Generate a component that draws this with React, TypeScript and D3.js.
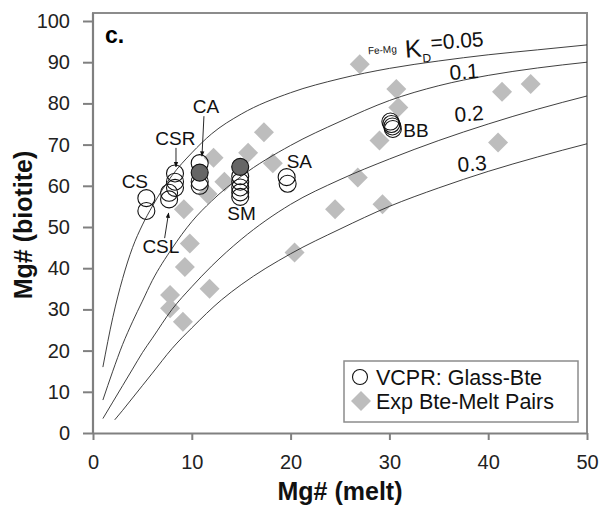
import { useEffect, useRef } from 'react';
import * as d3 from 'd3';

// experimental biotite-melt pairs (Mg# melt, Mg# biotite)
const expMelt = [27.0, 30.7, 30.9, 29.0, 26.8, 29.3, 24.5, 41.4, 44.3, 41.0, 17.3, 15.7, 12.2, 18.2, 13.3, 11.6, 9.2, 9.8, 9.3, 11.8, 20.4, 7.8, 7.8, 9.1];
const expBt = [89.5, 83.5, 79, 71, 62, 55.5, 54.3, 82.8, 84.7, 70.5, 73, 68, 66.8, 65.5, 61, 58, 54.3, 46, 40.3, 35, 43.8, 33.5, 30.3, 27];

// VCPR glass-biotite (open circles)
const vcprMelt = [5.4, 5.4, 7.7, 7.7, 8.3, 8.3, 8.3, 10.8, 10.8, 10.8, 14.9, 14.9, 14.9, 14.9, 14.9, 19.6, 19.7, 30.1, 30.2, 30.3, 30.35];
const vcprBt = [57, 53.9, 56.7, 58.3, 63, 61, 59.5, 65.5, 61, 60, 62.3, 61, 59.6, 58.4, 57.3, 62.1, 60.5, 75.6, 75, 74.4, 73.8];
// VCPR filled circles
const vcprDarkMelt = [10.8, 14.9];
const vcprDarkBt = [63.2, 64.6];

// KD isopleths
const kd005Melt = [1, 2, 3, 4, 5, 6, 8, 10, 12, 15, 20, 25, 30, 35, 40, 45, 50];
const kd005Bt = [16, 28, 37.5, 45, 50.5, 55, 62.5, 68, 72.6, 77.4, 82.6, 86, 88.5, 90.3, 91.8, 93, 94.2];
const kd01Melt = [1, 2, 3, 4, 5, 6, 8, 10, 12, 15, 20, 25, 30, 35, 40, 45, 50];
const kd01Bt = [8, 15, 21.5, 27, 32, 37, 44.8, 51.3, 56.3, 62.3, 69.8, 75.6, 80.7, 84.3, 86.8, 88.6, 90];
const kd02Melt = [1, 2, 3, 4, 5, 6, 8, 10, 12, 15, 20, 25, 30, 35, 40, 45, 50];
const kd02Bt = [3.5, 7.5, 11.5, 15.5, 19.5, 23, 30, 35.5, 40.5, 47, 55.5, 61.5, 66.5, 71, 75, 78.6, 81.8];
const kd03Melt = [2.2, 3, 4, 5, 6, 8, 10, 13, 15, 20, 25, 30, 35, 40, 45, 50];
const kd03Bt = [3.2, 5.5, 8.5, 11.5, 14.5, 20.5, 25.5, 32.3, 36, 43.5, 49.5, 55, 59.5, 63.5, 67, 70.2];

const xTicks = [0, 10, 20, 30, 40, 50];
const yTicks = [0, 10, 20, 30, 40, 50, 60, 70, 80, 90, 100];

const sampleNames = ['CS', 'CSR', 'CA', 'CSL', 'SM', 'SA', 'BB'];

const FONT = 'Liberation Sans, Arial, Helvetica, sans-serif';

function App() {
  const svgRef = useRef<SVGSVGElement>(null);

  useEffect(() => {
    const svg = d3.select(svgRef.current);
    svg.selectAll('*').remove();

    const x = d3.scaleLinear().domain([0, 50]).range([93, 587]);
    const y = d3.scaleLinear().domain([0, 100]).range([433, 21]);
    const top = 13;

    const defs = svg.append('defs');
    defs.append('clipPath').attr('id', 'plot')
      .append('rect').attr('x', x(0)).attr('y', top).attr('width', x(50) - x(0)).attr('height', y(0) - top);
    defs.append('marker')
      .attr('id', 'arr').attr('viewBox', '0 0 10 10').attr('refX', 9).attr('refY', 5)
      .attr('markerWidth', 6).attr('markerHeight', 6).attr('orient', 'auto')
      .append('path').attr('d', 'M0,1 L10,5 L0,9 z').attr('fill', '#111');

    // frame
    svg.append('path')
      .attr('d', `M${x(0)},${y(0)} V${top} H${x(50)} V${y(0)}`)
      .attr('fill', 'none').attr('stroke', '#8c8c8c').attr('stroke-width', 2);

    // axes
    const xAxis = svg.append('g').attr('transform', `translate(0,${y(0)})`)
      .call(d3.axisBottom(x).tickValues(xTicks).tickSize(7).tickPadding(15).tickSizeOuter(0));
    const yAxis = svg.append('g').attr('transform', `translate(${x(0)},0)`)
      .call(d3.axisLeft(y).tickValues(yTicks).tickSize(10).tickPadding(13).tickSizeOuter(0));
    [xAxis, yAxis].forEach((a) => {
      a.select('.domain').attr('stroke', '#808080').attr('stroke-width', 2.2);
      a.selectAll('.tick line').attr('stroke', '#808080').attr('stroke-width', 2);
      a.selectAll('.tick text').attr('fill', '#222').attr('font-size', 20).attr('font-family', FONT);
    });
    yAxis.select('.domain').attr('d', `M0,${y(0)} V${top}`);

    // experimental diamonds
    const diamond = d3.symbol(d3.symbolSquare, 200);
    svg.append('g').selectAll('path').data(expMelt).enter().append('path')
      .attr('d', diamond)
      .attr('transform', (d, i) => `translate(${x(d)},${y(expBt[i])}) rotate(45)`)
      .attr('fill', '#bdbdbd');

    // KD curves
    const line = d3.line<[number, number]>().x((d) => x(d[0])).y((d) => y(d[1])).curve(d3.curveMonotoneX);
    const curves: [number[], number[]][] = [
      [kd005Melt, kd005Bt], [kd01Melt, kd01Bt], [kd02Melt, kd02Bt], [kd03Melt, kd03Bt],
    ];
    svg.append('g').attr('clip-path', 'url(#plot)').selectAll('path').data(curves).enter().append('path')
      .attr('d', (c) => line(c[0].map((m, i) => [m, c[1][i]] as [number, number])))
      .attr('fill', 'none').attr('stroke', '#2a2a2a').attr('stroke-width', 0.9);

    // VCPR circles
    svg.append('g').selectAll('circle').data(vcprMelt).enter().append('circle')
      .attr('cx', (d) => x(d)).attr('cy', (d, i) => y(vcprBt[i])).attr('r', 8.5)
      .attr('fill', 'none').attr('stroke', '#111').attr('stroke-width', 1.1);
    svg.append('g').selectAll('circle').data(vcprDarkMelt).enter().append('circle')
      .attr('cx', (d) => x(d)).attr('cy', (d, i) => y(vcprDarkBt[i])).attr('r', 8.5)
      .attr('fill', '#666').attr('stroke', '#111').attr('stroke-width', 1.1);

    // sample labels
    const labelAt: [number, number][] = [[2.9, 59.5], [6.3, 69.9], [10.1, 77.7], [5.0, 43.7], [13.6, 51.7], [19.6, 64.3], [31.4, 71.8]];
    svg.append('g').selectAll('text').data(sampleNames).enter().append('text')
      .attr('x', (d, i) => x(labelAt[i][0])).attr('y', (d, i) => y(labelAt[i][1]))
      .attr('font-size', 19).attr('font-family', FONT).attr('fill', '#111').text((d) => d);

    const arrows: [number, number, number, number][] = [
      [8.4, 69.2, 8.4, 64.6], [11.23, 76.9, 11.03, 67.2], [7.25, 47.3, 7.65, 53.4],
    ];
    svg.append('g').selectAll('line').data(arrows).enter().append('line')
      .attr('x1', (d) => x(d[0])).attr('y1', (d) => y(d[1]))
      .attr('x2', (d) => x(d[2])).attr('y2', (d) => y(d[3]))
      .attr('stroke', '#111').attr('stroke-width', 0.9).attr('marker-end', 'url(#arr)');

    // panel letter
    svg.append('text').attr('x', 105).attr('y', 43).attr('font-size', 23).attr('font-weight', 'bold')
      .attr('font-family', FONT).text('c.');

    // KD labels
    const kd = svg.append('g').attr('font-family', FONT).attr('fill', '#111');
    const first = kd.append('g').attr('transform', 'rotate(-4 430 50)');
    first.append('text').attr('x', 368).attr('y', 50).attr('font-size', 10).text('Fe-Mg');
    first.append('text').attr('x', 405).attr('y', 56).attr('font-size', 25).text('K');
    first.append('text').attr('x', 422).attr('y', 62).attr('font-size', 12).text('D');
    first.append('text').attr('x', 431).attr('y', 50).attr('font-size', 21).text('=0.05');
    const kdPos: [number, number][] = [[450, 80], [455, 122], [458, 172]];
    ['0.1', '0.2', '0.3'].forEach((t, i) => {
      kd.append('text').attr('x', kdPos[i][0]).attr('y', kdPos[i][1]).attr('font-size', 21)
        .attr('transform', `rotate(-4 ${kdPos[i][0]} ${kdPos[i][1]})`).text(t);
    });

    // legend
    const lg = svg.append('g');
    lg.append('rect').attr('x', 344).attr('y', 361).attr('width', 234).attr('height', 61)
      .attr('fill', '#fff').attr('stroke', '#8c8c8c').attr('stroke-width', 1.5);
    lg.append('circle').attr('cx', 360).attr('cy', 377).attr('r', 7.5)
      .attr('fill', 'none').attr('stroke', '#111').attr('stroke-width', 1.1);
    lg.append('path').attr('d', diamond).attr('transform', 'translate(361,401) rotate(45)').attr('fill', '#bdbdbd');
    lg.append('text').attr('x', 376).attr('y', 385).attr('font-size', 21.5).attr('font-family', FONT)
      .attr('fill', '#111').text('VCPR: Glass-Bte');
    lg.append('text').attr('x', 376).attr('y', 409).attr('font-size', 21.5).attr('font-family', FONT)
      .attr('fill', '#111').text('Exp Bte-Melt Pairs');

    // axis titles
    svg.append('text').attr('x', (x(0) + x(50)) / 2).attr('y', 500).attr('text-anchor', 'middle')
      .attr('font-size', 25).attr('font-weight', 'bold').attr('font-family', FONT).attr('fill', '#111')
      .text('Mg# (melt)');
    svg.append('text').attr('transform', 'translate(32,225) rotate(-90)').attr('text-anchor', 'middle')
      .attr('font-size', 25).attr('font-weight', 'bold').attr('font-family', FONT).attr('fill', '#111')
      .text('Mg# (biotite)');
  }, []);

  return (
    <div style={{ position: 'absolute', left: 0, top: 0 }}>
      <svg ref={svgRef} width={606} height={511} style={{ display: 'block', background: '#fff' }} />
    </div>
  );
}

export default App;
